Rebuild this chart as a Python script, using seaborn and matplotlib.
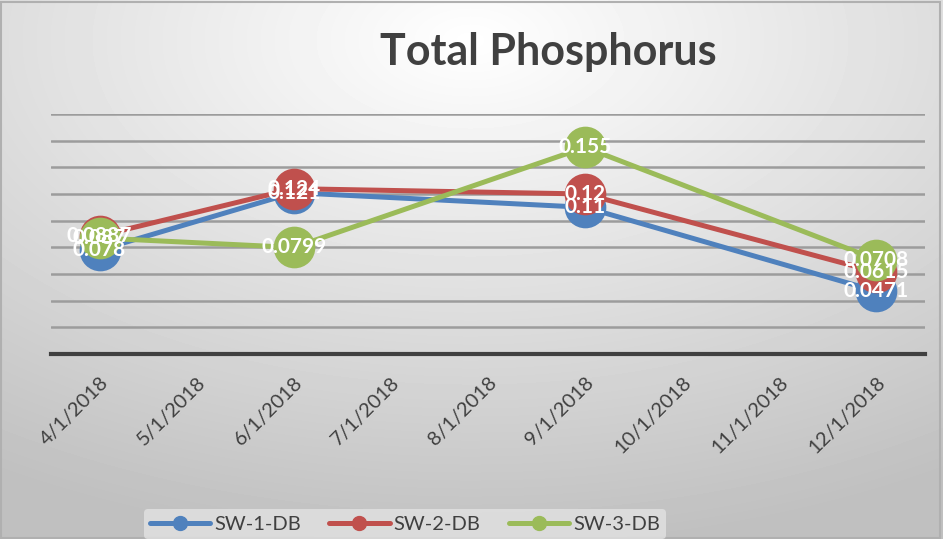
import numpy as np
import pandas as pd
import matplotlib
matplotlib.use('Agg')
import matplotlib.pyplot as plt
from matplotlib.lines import Line2D
import seaborn as sns

# ==================================================================================================

# Данные графика
months = ['4/1/2018', '5/1/2018', '6/1/2018', '7/1/2018', '8/1/2018',
          '9/1/2018', '10/1/2018', '11/1/2018', '12/1/2018']
sample_dates = ['4/1/2018', '6/1/2018', '9/1/2018', '12/1/2018']
series_names = ['SW-1-DB', 'SW-2-DB', 'SW-3-DB']
sw1 = [0.078, 0.121, 0.11, 0.0471]
sw2 = [0.0887, 0.124, 0.12, 0.0615]
sw3 = [0.087, 0.0799, 0.155, 0.0708]
colors = ['#4F81BD', '#C0504D', '#9BBB59']

# ==================================================================================================

rows = []
for name, vals in zip(series_names, [sw1, sw2, sw3]):
    for d, v in zip(sample_dates, vals):
        rows.append({'date': d, 'pos': months.index(d), 'value': v, 'series': name})
df = pd.DataFrame(rows)

sns.set_theme(style='white')
plt.rcParams['font.family'] = ['Lato', 'DejaVu Sans']

fig = plt.figure(figsize=(9.43, 5.39), dpi=100)

# Фон с радиальным градиентом
bg = fig.add_axes([0, 0, 1, 1], zorder=0)
yy, xx = np.mgrid[0:539, 0:943]
r = np.sqrt(((xx - 470) / 943) ** 2 + ((yy - 40) / 539) ** 2)
shade = 1.0 - 0.25 * np.clip(r / 0.95, 0, 1)
bg.imshow(shade, cmap='gray', vmin=0, vmax=1, aspect='auto', extent=[0, 1, 0, 1])
bg.add_patch(plt.Rectangle((0.001, 0.001), 0.996, 0.995, fill=False,
                           edgecolor='#b0b0b0', linewidth=1.5))
bg.set_xlim(0, 1)
bg.set_ylim(0, 1)
bg.axis('off')

ax = fig.add_axes([51 / 943, 1 - 354 / 539, (925 - 51) / 943, (354 - 114) / 539], zorder=1)
ax.set_facecolor('none')

sns.lineplot(data=df, x='pos', y='value', hue='series', palette=colors,
             marker='o', markersize=30, markeredgewidth=0, linewidth=3.6,
             legend=False, ax=ax, zorder=3)

for vals in [sw1, sw2, sw3]:
    for d, v in zip(sample_dates, vals):
        ax.text(months.index(d), v, str(v), color='white', fontsize=15,
                fontweight='bold', ha='center', va='center', zorder=5)

ax.set_xlim(-0.5, len(months) - 0.5)
ax.set_ylim(0, 0.18)
ax.set_yticks(np.arange(0.02, 0.181, 0.02))
ax.set_yticklabels([])
ax.tick_params(axis='y', length=0)
ax.grid(axis='y', color='#9c9c9c', linewidth=1.8)
ax.set_axisbelow(True)

ax.set_xticks(range(len(months)))
ax.set_xticklabels(months, rotation=45, ha='right', rotation_mode='anchor',
                   fontsize=14.5, color='#404040')
ax.set_xticks(np.arange(-0.5, len(months), 1.0), minor=True)
ax.tick_params(axis='x', which='major', length=0, pad=14)
ax.tick_params(axis='x', which='minor', length=6, width=3, color='#404040', direction='out')

for side in ['top', 'right', 'left']:
    ax.spines[side].set_visible(False)
ax.spines['bottom'].set_color('#404040')
ax.spines['bottom'].set_linewidth(3)
ax.set_xlabel('')
ax.set_ylabel('')

fig.text(548 / 943, 1 - 52 / 539, 'Total Phosphorus', fontsize=31, fontweight='bold',
         color='#404040', ha='center', va='center')

handles = [Line2D([0], [0], color=c, linewidth=3.6, marker='o', markersize=10) for c in colors]
leg = fig.legend(handles, series_names, loc='lower center', bbox_to_anchor=(405 / 943, -0.018),
                 ncol=3, fontsize=14.5, frameon=True, handlelength=3.0, columnspacing=1.4,
                 handletextpad=0.2, borderpad=0.3)
leg.get_frame().set_facecolor('#e2e2e2')
leg.get_frame().set_edgecolor('none')
leg.get_frame().set_alpha(0.8)
for t in leg.get_texts():
    t.set_color('#404040')

fig.savefig('out.png', dpi=100)
